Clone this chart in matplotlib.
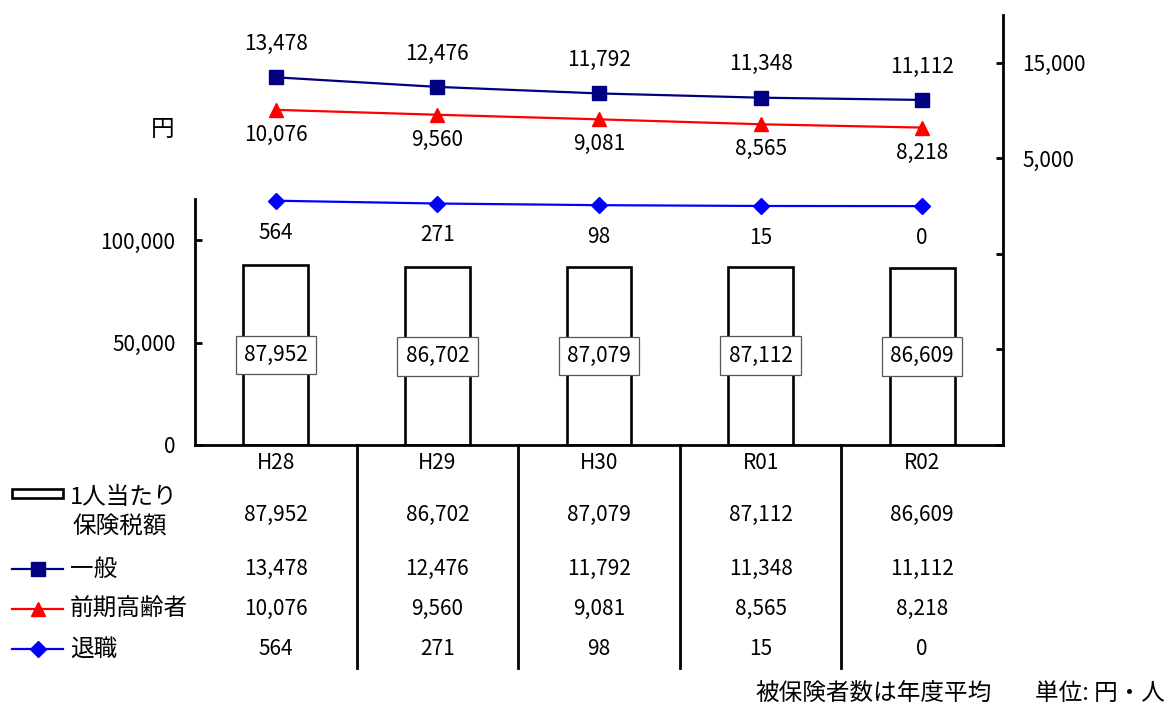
import matplotlib
matplotlib.use("Agg")
import matplotlib.pyplot as plt
import matplotlib.transforms as mtransforms
from matplotlib.lines import Line2D
from matplotlib.patches import Rectangle

plt.rcParams['font.family'] = ['Noto Sans CJK JP', 'DejaVu Sans']

# ---- data ----
years = ["H28", "H29", "H30", "R01", "R02"]
per_capita_tax = [87952, 86702, 87079, 87112, 86609]   # 1人当たり保険税額
general = [13478, 12476, 11792, 11348, 11112]          # 一般
early_elderly = [10076, 9560, 9081, 8565, 8218]        # 前期高齢者
retired = [564, 271, 98, 15, 0]                        # 退職

series_labels = ["一般", "前期高齢者", "退職"]

W, H = 1168, 708
FS = 15      # numbers
FSJ = 17     # Japanese labels

def fx(px):
    return px / W

def fy(py):
    return 1 - py / H

def fmt(v):
    return f"{v:,}"

fig = plt.figure(figsize=(W / 100, H / 100), dpi=100)
ax = fig.add_axes([fx(195), fy(445), (1003 - 195) / W, 430 / H])
ax2 = ax.twinx()

x = list(range(len(years)))

# bars on the left axis
ax.bar(x, per_capita_tax, width=0.40, facecolor="white", edgecolor="black",
       linewidth=1.9, zorder=2)
for xi, v in zip(x, per_capita_tax):
    ax.text(xi, v / 2, fmt(v), ha="center", va="center", fontsize=FS,
            zorder=4,
            bbox=dict(boxstyle="square,pad=0.4", facecolor="white",
                      edgecolor="#555555", linewidth=0.9))

ax.set_xlim(-0.5, 4.5)
ax.set_ylim(0, 210000)
ax.set_yticks([0, 50000, 100000])
ax.set_yticklabels([fmt(v) for v in [0, 50000, 100000]])
ax.set_xticks([])
ax.spines["top"].set_visible(False)
ax.spines["right"].set_visible(False)
ax.spines["left"].set_bounds(0, 120000)
for s in ("left", "bottom"):
    ax.spines[s].set_linewidth(2.0)
ax.tick_params(axis="y", direction="in", length=5, width=2.0, pad=14,
               labelsize=FS)

# lines on the right axis
ax2.set_ylim(-25000, 20000)
r_ticks = [-25000, -15000, -5000, 5000, 15000]
ax2.set_yticks(r_ticks)
ax2.set_yticklabels([fmt(v) if v > 0 else "" for v in r_ticks])
ax2.spines["top"].set_visible(False)
ax2.spines["left"].set_visible(False)
ax2.spines["bottom"].set_visible(False)
ax2.spines["right"].set_linewidth(2.0)
ax2.tick_params(axis="y", direction="in", length=5, width=2.0, pad=14,
                labelsize=FS)

styles = [
    (general, "#000080", "s", 10, 24),
    (early_elderly, "#FF0000", "^", 10, -18),
    (retired, "#0000FF", "D", 8, -23),
]
for vals, col, mk, ms, off in styles:
    ax2.plot(x, vals, color=col, marker=mk, markersize=ms, linewidth=1.6,
             zorder=3, clip_on=False)
    for xi, v in zip(x, vals):
        ax2.annotate(fmt(v), (xi, v), xytext=(0, off), textcoords="offset points",
                     ha="center", va="center", fontsize=FS)

fig.text(fx(163), fy(129), "円", ha="center", va="center", fontsize=FSJ)

# data table under the plot
tr = mtransforms.blended_transform_factory(ax.transData, fig.transFigure)
for xi, yr in zip(x, years):
    fig.text(xi, fy(463), yr, transform=tr, ha="center", va="center", fontsize=FS)

rows_y = [515, 569, 609, 649]
for ry, vals in zip(rows_y, [per_capita_tax, general, early_elderly, retired]):
    for xi, v in zip(x, vals):
        fig.text(xi, fy(ry), fmt(v), transform=tr, ha="center", va="center",
                 fontsize=FS)

for b in [0.5, 1.5, 2.5, 3.5]:
    fig.add_artist(Line2D([b, b], [fy(445), fy(668)], transform=tr,
                          color="black", linewidth=2.0))

# legend keys in the table
fig.add_artist(Rectangle((fx(12), fy(498)), fx(63) - fx(12), fy(489) - fy(498),
                         transform=fig.transFigure, facecolor="white",
                         edgecolor="black", linewidth=1.9))
fig.text(fx(70), fy(497), "1人当たり", ha="left", va="center", fontsize=FSJ)
fig.text(fx(72), fy(527), "保険税額", ha="left", va="center", fontsize=FSJ)

for ry, (vals, col, mk, ms, off), lab in zip(rows_y[1:], styles, series_labels):
    fig.add_artist(Line2D([fx(12), fx(63)], [fy(ry), fy(ry)],
                          transform=fig.transFigure, color=col, linewidth=1.6))
    fig.add_artist(Line2D([fx(37.5)], [fy(ry)], transform=fig.transFigure,
                          color=col, marker=mk, markersize=ms, linestyle="none"))
    fig.text(fx(70), fy(ry), lab, ha="left", va="center", fontsize=FSJ)

fig.text(fx(755), fy(694), "被保険者数は年度平均", ha="left", va="center",
         fontsize=FSJ)
fig.text(fx(1165), fy(694), "単位: 円・人", ha="right", va="center",
         fontsize=FSJ)

fig.savefig("out.png", dpi=100)
